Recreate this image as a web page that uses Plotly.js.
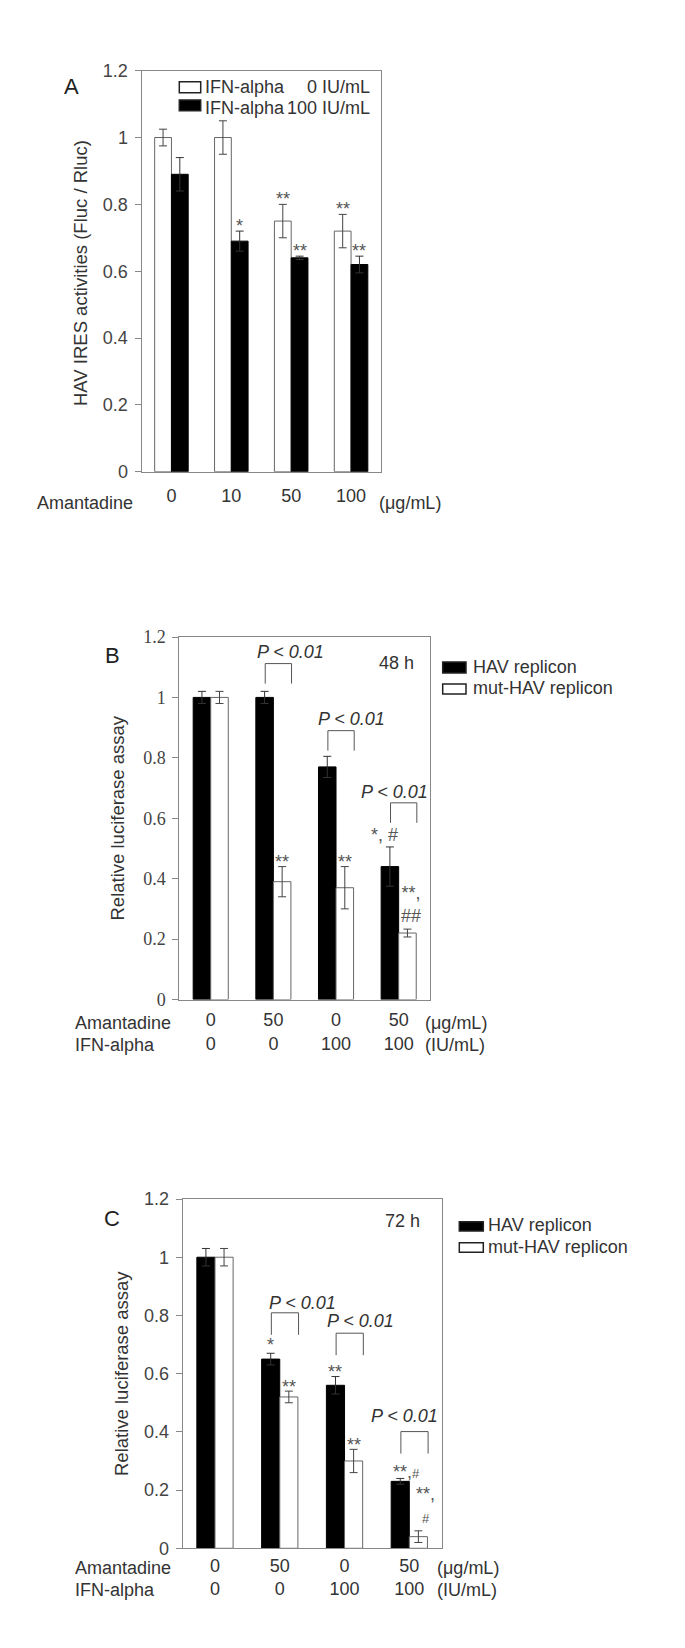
<!DOCTYPE html>
<html>
<head>
<meta charset="utf-8">
<script src="https://cdn.plot.ly/plotly-3.0.1.min.js"></script>
<style>html,body{margin:0;padding:0;background:#fff;}#chart{width:685px;height:1648px;}</style>
</head>
<body>
<div id="chart"></div>
<script>
// ---------------- DATA ----------------
// Panel A: HAV IRES activities
const catsA = ['0', '10', '50', '100'];            // Amantadine (µg/mL)
const ifn0 = [1.00, 1.00, 0.75, 0.72];             // IFN-alpha 0 IU/mL
const ifn0Err = [0.025, 0.05, 0.05, 0.05];
const ifn100 = [0.89, 0.69, 0.64, 0.62];           // IFN-alpha 100 IU/mL
const ifn100Err = [0.05, 0.03, 0.005, 0.025];
const sigIfn0 = ['', '', '**', '**'];
const sigIfn100 = ['', '*', '**', '**'];

// Panel B: 48 h
const amantadineB = ['0', '50', '0', '50'];
const ifnB = ['0', '0', '100', '100'];
const hav48 = [1.00, 1.00, 0.77, 0.44];
const hav48Err = [0.02, 0.02, 0.035, 0.065];
const mut48 = [1.00, 0.39, 0.37, 0.22];
const mut48Err = [0.02, 0.05, 0.07, 0.013];
const sigHav48 = ['', '', '', '*, #'];
const sigMut48 = ['', '**', '**', '**,<br>##'];
const pGroupsB = [1, 2, 3];
const pTopB = [1.112, 0.890, 0.651];

// Panel C: 72 h
const amantadineC = ['0', '50', '0', '50'];
const ifnC = ['0', '0', '100', '100'];
const hav72 = [1.00, 0.65, 0.56, 0.23];
const hav72Err = [0.03, 0.02, 0.03, 0.01];
const mut72 = [1.00, 0.52, 0.30, 0.04];
const mut72Err = [0.03, 0.02, 0.04, 0.02];
const sigHav72 = ['', '*', '**', '**,<span style="font-size:13px">#</span>'];
const sigMut72 = ['', '**', '**', '**,<br><span style="font-size:13px">#</span>'];
const pGroupsC = [1, 2, 3];
const pTopC = [0.809, 0.739, 0.401];

// ---------------- LAYOUT HELPERS ----------------
const W = 685, H = 1648;
const SANS = "'Liberation Sans', Arial, sans-serif";
const SERIF = "'Liberation Serif', 'Times New Roman', serif";
const TXT = '#333';
const px = x => x / W;
const py = y => 1 - y / H;

// frames in pixels [left, right, top, bottom]
const frames = {
  A: [141.5, 381, 70.7, 471.7],
  B: [179.4, 430, 637, 999.5],
  C: [182.6, 441.7, 1199, 1548.3]
};
const BARGAP = 0.44;
const HALF = (1 - BARGAP) / 4; // offset of each bar center from group center

function unitPx(f) { return (f[3] - f[2]) / 1.2; }

function xAx(f, anchor, ticklabelstandoff) {
  return {
    domain: [px(f[0]), px(f[1])], anchor: anchor, type: 'category',
    range: [-0.5, 3.5], showline: true, mirror: true, linecolor: '#888', linewidth: 1,
    ticks: '', showgrid: false, zeroline: false, fixedrange: true,
    tickfont: {family: SANS, size: 18, color: TXT},
    ticklabelstandoff: ticklabelstandoff
  };
}
function yAx(f, anchor, fam) {
  return {
    domain: [py(f[3]), py(f[2])], anchor: anchor,
    range: [0, 1.2], tick0: 0, dtick: 0.2,
    showline: true, mirror: true, linecolor: '#888', linewidth: 1,
    ticks: 'outside', ticklen: 6, tickcolor: '#888',
    showgrid: false, zeroline: false, fixedrange: true,
    tickfont: {family: fam, size: 18, color: '#444'}, ticklabelstandoff: 3
  };
}

function barTrace(x, y, err, fill, line, errColor, xa, ya, name) {
  return {
    type: 'bar', x: x, y: y, name: name, xaxis: xa, yaxis: ya,
    marker: {color: fill, line: {color: line, width: 1}},
    error_y: {type: 'data', array: err, visible: true, color: errColor, thickness: 1, width: 4},
    hoverinfo: 'skip'
  };
}

const catsB = amantadineB.map((a, i) => a + '<br>' + ifnB[i]);
const catsC = amantadineC.map((a, i) => a + '<br>' + ifnC[i]);

const data = [
  barTrace(catsA, ifn0, ifn0Err, '#ffffff', '#666', '#444', 'x', 'y', 'IFN-alpha 0 IU/mL'),
  barTrace(catsA, ifn100, ifn100Err, '#000000', '#000', '#333', 'x', 'y', 'IFN-alpha 100 IU/mL'),
  barTrace(catsB, hav48, hav48Err, '#000000', '#000', '#333', 'x2', 'y2', 'HAV replicon'),
  barTrace(catsB, mut48, mut48Err, '#ffffff', '#666', '#444', 'x2', 'y2', 'mut-HAV replicon'),
  barTrace(catsC, hav72, hav72Err, '#000000', '#000', '#333', 'x3', 'y3', 'HAV replicon'),
  barTrace(catsC, mut72, mut72Err, '#ffffff', '#666', '#444', 'x3', 'y3', 'mut-HAV replicon')
];

const annotations = [];
const shapes = [];

function txt(text, x, y, opts) {
  annotations.push(Object.assign({
    text: text, x: x, y: y, xref: 'paper', yref: 'paper',
    showarrow: false, xanchor: 'center', yanchor: 'middle',
    font: {family: SANS, size: 18, color: TXT}
  }, opts || {}));
}

// significance marks placed at the top of each error bar
function sigMarks(labels, vals, errs, side, xa, ya, special) {
  labels.forEach((s, i) => {
    if (!s) return;
    const sp = (special && special[i]) || {};
    annotations.push({
      text: s, x: i + side * HALF, y: vals[i] + errs[i], xref: xa, yref: ya,
      showarrow: false, xanchor: 'center', yanchor: 'middle',
      yshift: sp.dy !== undefined ? sp.dy : 5, xshift: sp.dx || 0,
      font: {family: SANS, size: 18, color: '#555'}
    });
  });
}

function brackets(groups, tops, f, xa, ya, textDx, textDy, legPx) {
  const u = unitPx(f);
  groups.forEach((g, i) => {
    const x0 = g - 0.13, x1 = g + 0.29, yt = tops[i], yb = tops[i] - legPx / u;
    const ln = {color: '#555', width: 1};
    shapes.push({type: 'line', xref: xa, yref: ya, x0: x0, x1: x1, y0: yt, y1: yt, line: ln});
    shapes.push({type: 'line', xref: xa, yref: ya, x0: x0, x1: x0, y0: yt, y1: yb, line: ln});
    shapes.push({type: 'line', xref: xa, yref: ya, x0: x1, x1: x1, y0: yt, y1: yb, line: ln});
    annotations.push({
      text: '<i>P &lt; 0.01</i>', x: g + textDx[i], y: yt + textDy[i] / u,
      xref: xa, yref: ya, showarrow: false, xanchor: 'center', yanchor: 'middle',
      font: {family: SANS, size: 18, color: TXT}
    });
  });
}

function legendBox(x0, x1, y0, y1, fill) {
  shapes.push({type: 'rect', xref: 'paper', yref: 'paper',
    x0: px(x0), x1: px(x1), y0: py(y1), y1: py(y0),
    fillcolor: fill, line: {color: '#222', width: 1.5}});
}

// ---------- Panel A ----------
txt('A', px(71.3), py(86.8), {font: {family: SANS, size: 22, color: '#222'}});
txt('HAV IRES activities (Fluc / Rluc)', px(80), py(273), {textangle: -90, font: {family: SANS, size: 18.5, color: TXT}});
legendBox(179.3, 200.7, 81.7, 92.7, '#ffffff');
legendBox(179.3, 200.7, 100, 110.7, '#000000');
txt('IFN-alpha', px(203.3), py(86.7), {xanchor: 'left'});
txt('0 IU/mL', px(372), py(86.7), {xanchor: 'right'});
txt('IFN-alpha', px(203.3), py(108.3), {xanchor: 'left'});
txt('100 IU/mL', px(372), py(108.3), {xanchor: 'right'});
txt('Amantadine', px(135), py(503), {xanchor: 'right'});
txt('(\u03bcg/mL)', px(376.7), py(503), {xanchor: 'left'});
sigMarks(sigIfn0, ifn0, ifn0Err, -1, 'x', 'y');
sigMarks(sigIfn100, ifn100, ifn100Err, 1, 'x', 'y');

// ---------- Panel B ----------
txt('B', px(112.5), py(655.5), {font: {family: SANS, size: 22, color: '#222'}});
txt('Relative luciferase assay', px(117.5), py(818), {textangle: -90, font: {family: SANS, size: 18.5, color: TXT}});
txt('48 h', px(396.3), py(662.5));
legendBox(442.7, 466, 662, 673, '#000000');
legendBox(442.7, 466, 684, 694, '#ffffff');
txt('HAV replicon', px(470.7), py(666.5), {xanchor: 'left'});
txt('mut-HAV replicon', px(470.7), py(688), {xanchor: 'left'});
txt('Amantadine', px(72.7), py(1023), {xanchor: 'left'});
txt('IFN-alpha', px(72.7), py(1045), {xanchor: 'left'});
txt('(\u03bcg/mL)', px(423.3), py(1023), {xanchor: 'left'});
txt('(IU/mL)', px(423.3), py(1045), {xanchor: 'left'});
sigMarks(sigHav48, hav48, hav48Err, -1, 'x2', 'y2', {3: {dy: 11.7, dx: -5.5}});
sigMarks(sigMut48, mut48, mut48Err, 1, 'x2', 'y2', {3: {dy: 25, dx: 4}});
brackets(pGroupsB, pTopB, frames.B, 'x2', 'y2', [0.27, 0.24, -0.06], [12, 12, 11], 20);

// ---------- Panel C ----------
txt('C', px(112), py(1218), {font: {family: SANS, size: 22, color: '#222'}});
txt('Relative luciferase assay', px(121), py(1374), {textangle: -90, font: {family: SANS, size: 18.5, color: TXT}});
txt('72 h', px(402.5), py(1221));
legendBox(459.3, 483.3, 1221.7, 1231, '#000000');
legendBox(459.3, 483.3, 1242.7, 1252.3, '#ffffff');
txt('HAV replicon', px(486), py(1224.5), {xanchor: 'left'});
txt('mut-HAV replicon', px(486), py(1246.7), {xanchor: 'left'});
txt('Amantadine', px(72.7), py(1568.3), {xanchor: 'left'});
txt('IFN-alpha', px(72.7), py(1590), {xanchor: 'left'});
txt('(\u03bcg/mL)', px(435), py(1568.3), {xanchor: 'left'});
txt('(IU/mL)', px(435), py(1590), {xanchor: 'left'});
sigMarks(sigHav72, hav72, hav72Err, -1, 'x3', 'y3', {1: {dy: 8}, 3: {dy: 6, dx: 6}});
sigMarks(sigMut72, mut72, mut72Err, 1, 'x3', 'y3', {1: {dy: 4}, 2: {dy: 4}, 3: {dy: 26, dx: 7}});
brackets(pGroupsC, pTopC, frames.C, 'x3', 'y3', [0.35, 0.25, -0.08], [10, 12, 16], 22);

const layout = {
  width: W, height: H,
  margin: {l: 0, r: 0, t: 0, b: 0},
  paper_bgcolor: '#ffffff', plot_bgcolor: '#ffffff',
  showlegend: false,
  barmode: 'group', bargap: BARGAP, bargroupgap: 0,
  font: {family: SANS, size: 18, color: TXT},
  xaxis: xAx(frames.A, 'y', 8),
  yaxis: yAx(frames.A, 'x', SANS),
  xaxis2: xAx(frames.B, 'y2', 4),
  yaxis2: yAx(frames.B, 'x2', SERIF),
  xaxis3: xAx(frames.C, 'y3', 1),
  yaxis3: yAx(frames.C, 'x3', SANS),
  annotations: annotations,
  shapes: shapes
};

Plotly.newPlot('chart', data, layout, {staticPlot: true, displayModeBar: false});
</script>
</body>
</html>
